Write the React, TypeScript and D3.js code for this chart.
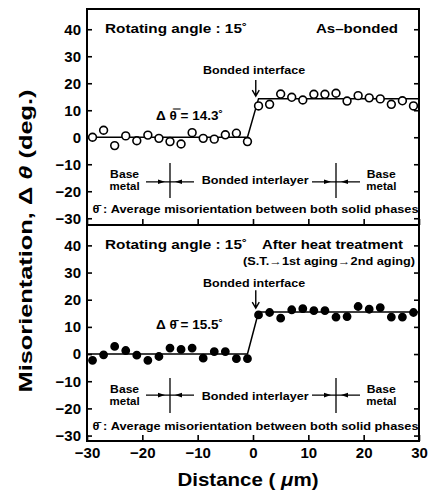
import React, { useEffect, useRef } from 'react';
import * as d3 from 'd3';

// measurement positions (µm)
const positions = [
  -29, -27, -25, -23, -21, -19, -17, -15, -13, -11, -9, -7, -5, -3, -1,
  1, 3, 5, 7, 9, 11, 13, 15, 17, 19, 21, 23, 25, 27, 29,
];
// misorientation (deg.) as-bonded
const asBondedValues = [
  0, 2.6, -3.1, 0.5, -1.3, 0.8, -0.4, -1.6, -2.5, 1.7, -0.4, -0.7, 0.9, 1.5, -1.6,
  11.6, 12.2, 16.0, 14.8, 13.8, 15.9, 15.9, 16.3, 13.4, 15.4, 14.6, 14.2, 12.2, 13.5, 11.6,
];
// misorientation (deg.) after heat treatment
const heatTreatedValues = [
  -2.3, -0.3, 2.8, 1.3, -0.4, -2.3, -0.9, 2.2, 1.7, 2.2, -1.5, 0.9, 0.9, -1.7, -1.7,
  14.4, 15.3, 13.2, 16.3, 16.7, 16.0, 16.0, 13.6, 13.8, 17.5, 16.5, 17.1, 13.6, 13.6, 15.3,
];
// average lines
const meanLineX = [-30, -1, 1, 30];
const asBondedMean = [0, 0, 14.3, 14.3];
const heatTreatedMean = [0, 0, 15.5, 15.5];

const xTicks = [-30, -20, -10, 0, 10, 20, 30];
const yTicks = [-30, -20, -10, 0, 10, 20, 30, 40];

const W = 429;
const H = 494;
const FONT = "'Liberation Sans', Arial, sans-serif";

const App = () => {
  const svgRef = useRef<SVGSVGElement>(null);

  useEffect(() => {
    const svg = d3.select(svgRef.current);
    svg.selectAll('*').remove();

    const x = d3.scaleLinear().domain([-30, 30]).range([87, 419]);

    const panels = [
      {
        y: d3.scaleLinear().domain([-32.5, 47.5]).range([225, 9]),
        values: asBondedValues,
        mean: asBondedMean,
        filled: false,
        meanText: 'Δ θ\u033F = 14.3˚',
        t: { rot: 38.6, iface: 23.4, arrTop: 21.2, arrBot: 15.2, meanLbl: 6.4, base: -15.1, metal: -19.5, arr: -16.5, vTop: -9.5, vBot: -22.5, inter: -17.3, avg: -28.2 },
        right: 'As–bonded',
        sub: null as string | null,
        showXLabels: false,
      },
      {
        y: d3.scaleLinear().domain([-32, 47.5]).range([441, 225]),
        values: heatTreatedValues,
        mean: heatTreatedMean,
        filled: true,
        meanText: 'Δ θ\u0304 = 15.5˚',
        t: { rot: 38.6, iface: 24.7, arrTop: 23.5, arrBot: 16.9, meanLbl: 9.2, base: -14.4, metal: -18.8, arr: -15.1, vTop: -8.8, vBot: -21.7, inter: -16.9, avg: -28.0 },
        right: 'After heat treatment',
        sub: '(S.T.→1st aging→2nd aging)',
        showXLabels: true,
      },
    ];

    const root = svg.append('g').style('font-family', FONT).style('font-weight', 'bold');

    panels.forEach(p => {
      const y = p.y;
      const g = root.append('g');

      // axes, ticks pointing inward
      const left = g.append('g').attr('transform', `translate(${x(-30)},0)`)
        .call(d3.axisLeft(y).tickValues(yTicks).tickSize(-5).tickPadding(6));
      const rightAx = g.append('g').attr('transform', `translate(${x(30)},0)`)
        .call(d3.axisRight(y).tickValues(yTicks).tickSize(-5).tickFormat(() => ''));
      const bottom = g.append('g').attr('transform', `translate(0,${y.range()[0]})`)
        .call(d3.axisBottom(x).tickValues(xTicks).tickSize(-6).tickPadding(6)
          .tickFormat(p.showXLabels ? (d => d3.format('')(d as number)) : () => ''));
      [left, rightAx, bottom].forEach(a => {
        a.select('.domain').remove();
        a.selectAll('line').attr('stroke', '#000').attr('stroke-width', 1.6);
        a.selectAll('text').style('font-size', '15px').style('font-family', FONT)
          .style('font-weight', 'bold').attr('fill', '#000');
      });

      // average line
      const line = d3.line<number>().x(d => x(d)).y((_, i) => y(p.mean[i]));
      g.append('path').attr('d', line(meanLineX)).attr('fill', 'none')
        .attr('stroke', '#000').attr('stroke-width', 1.5);

      // points
      g.selectAll('circle.pt').data(positions).enter().append('circle')
        .attr('class', 'pt')
        .attr('cx', d => x(d))
        .attr('cy', (_, i) => y(p.values[i]))
        .attr('r', p.filled ? 3.6 : 3.9)
        .attr('fill', p.filled ? '#000' : '#fff')
        .attr('stroke', '#000')
        .attr('stroke-width', 1.6);

      const t = p.t;
      const txt = (tx: number, ty: number, s: string, size: number, anchor = 'start', len?: number) => {
        const el = g.append('text').attr('x', tx).attr('y', ty).attr('text-anchor', anchor)
          .style('font-size', `${size}px`).attr('fill', '#000').text(s);
        if (len) el.attr('textLength', len).attr('lengthAdjust', 'spacingAndGlyphs');
        return el;
      };

      txt(105, y(t.rot), 'Rotating angle : 15˚', 13.5, 'start', 142);
      if (p.sub) {
        txt(262, y(t.rot), p.right, 13.5, 'start', 141);
        txt(243, y(32.7), p.sub, 11, 'start', 172);
      } else {
        txt(398, y(t.rot), p.right, 13.5, 'end', 82);
      }

      // bonded interface label and arrow
      txt(x(0.2), y(t.iface), 'Bonded interface', 11.5, 'middle', 102);
      const ax = x(0.5);
      g.append('path')
        .attr('d', `M${ax},${y(t.arrTop)}V${y(t.arrBot)}M${ax - 3.5},${y(t.arrBot) - 6}L${ax},${y(t.arrBot)}L${ax + 3.5},${y(t.arrBot) - 6}`)
        .attr('fill', 'none').attr('stroke', '#000').attr('stroke-width', 1.4);

      txt(156, y(t.meanLbl), p.meanText, 13.5, 'start', 67);

      // region markers
      [-23.2, 23.2].forEach(cx => {
        txt(x(cx), y(t.base), 'Base', 10.5, 'middle', 29);
        txt(x(cx), y(t.metal), 'metal', 10.5, 'middle', 30);
      });
      txt(x(0.4), y(t.inter), 'Bonded interlayer', 11.5, 'middle', 107);

      [-15, 15].forEach(b => {
        const bx = x(b);
        const ay = y(t.arr);
        g.append('line').attr('x1', bx).attr('x2', bx).attr('y1', y(t.vTop)).attr('y2', y(t.vBot))
          .attr('stroke', '#000').attr('stroke-width', 1.3);
        g.append('line').attr('x1', bx - 24).attr('x2', bx + 24).attr('y1', ay).attr('y2', ay)
          .attr('stroke', '#000').attr('stroke-width', 1.2);
        g.append('path').attr('d', `M${bx - 5},${ay}L${bx - 12},${ay - 2.3}L${bx - 12},${ay + 2.3}Z`).attr('fill', '#000');
        g.append('path').attr('d', `M${bx + 5},${ay}L${bx + 12},${ay - 2.3}L${bx + 12},${ay + 2.3}Z`).attr('fill', '#000');
      });

      txt(x(-29), y(t.avg), 'θ\u0304 : Average misorientation between both solid phases', 11.5, 'start', 326);
    });

    // frame
    root.append('rect').attr('x', x(-30)).attr('y', 9).attr('width', x(30) - x(-30)).attr('height', 432)
      .attr('fill', 'none').attr('stroke', '#000').attr('stroke-width', 2);
    root.append('line').attr('x1', x(-30)).attr('x2', x(30)).attr('y1', 225).attr('y2', 225)
      .attr('stroke', '#000').attr('stroke-width', 2);

    // axis titles
    const yl = root.append('text')
      .attr('transform', `translate(32,${241}) rotate(-90)`)
      .attr('text-anchor', 'middle')
      .style('font-size', '19px')
      .attr('textLength', 303)
      .attr('lengthAdjust', 'spacingAndGlyphs')
      .attr('fill', '#000');
    yl.append('tspan').text('Misorientation, Δ ');
    yl.append('tspan').style('font-style', 'italic').text('θ');
    yl.append('tspan').text(' (deg.)');

    const xl = root.append('text')
      .attr('x', 248).attr('y', 486)
      .attr('text-anchor', 'middle')
      .style('font-size', '19px')
      .attr('textLength', 141)
      .attr('lengthAdjust', 'spacingAndGlyphs')
      .attr('fill', '#000');
    xl.append('tspan').text('Distance ( ');
    xl.append('tspan').style('font-style', 'italic').text('μ');
    xl.append('tspan').text('m)');
  }, []);

  return (
    <svg ref={svgRef} width={W} height={H}
      style={{ position: 'absolute', left: 0, top: 0, background: '#fff' }} />
  );
};

export default App;
